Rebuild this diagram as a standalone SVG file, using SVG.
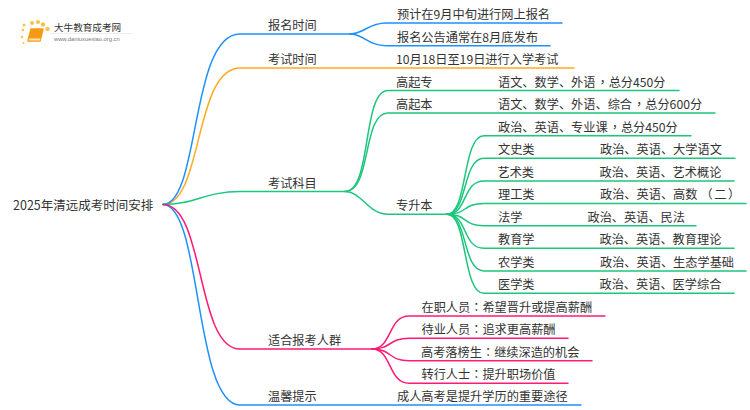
<svg xmlns="http://www.w3.org/2000/svg" width="750" height="410" viewBox="0 0 750 410">
<style>
text{font-family:"Noto Sans CJK SC","Liberation Sans",sans-serif;font-size:12.2px;fill:#333}
tspan{font-family:"Noto Sans CJK TC","Noto Sans CJK SC",sans-serif}
.c{fill:none;stroke-width:1.5;stroke-linecap:round}
.b{stroke:#1e90ff}.o{stroke:#ffa91f}.g{stroke:#1cc67c}.p{stroke:#ff1a75}
.d{fill:#fbc14a}
</style>
<rect width="750" height="410" fill="#fff"/>
<g id="connectors">
<path class="c o" d="M163,204.500C203,204.500 194,68 240,68H574"/>
<path class="c b" d="M163,204.500C200,204.500 190,34 240,34H350"/>
<path class="c g" d="M163,204.500C195,204.500 205,191.500 240,191.500H345"/>
<path class="c b" d="M163,204.500C202,204.500 194,405 240,405H581"/>
<path class="c p" d="M163,204.500C205,204.500 196,349 240,349H372"/>
<path class="c b" d="M350,34C364,34 368,23 386,23H562"/>
<path class="c b" d="M350,34C364,34 368,45.700 386,45.700H550"/>
<path class="c g" d="M345,191.500C372,191.500 362,90.500 388,90.500H679"/>
<path class="c g" d="M345,191.500C372,191.500 362,113 388,113H715"/>
<path class="c g" d="M345,191.500C362,191.500 368,214.300 388,214.300H447"/>
<path class="c g" d="M447,214.300C468,214.300 462,135.700 484,135.700H691"/>
<path class="c g" d="M447,214.300C468,214.300 462,158.300 484,158.300H735"/>
<path class="c g" d="M447,214.300C468,214.300 462,181 484,181H734"/>
<path class="c g" d="M447,214.300C468,214.300 462,203.500 484,203.500H746"/>
<path class="c g" d="M447,214.300C468,214.300 462,225.700 484,225.700H696"/>
<path class="c g" d="M447,214.300C468,214.300 462,248.300 484,248.300H734"/>
<path class="c g" d="M447,214.300C468,214.300 462,271 484,271H746"/>
<path class="c g" d="M447,214.300C468,214.300 462,293.300 484,293.300H734"/>
<path class="c p" d="M372,349C392,349 388,316 409,316H605"/>
<path class="c p" d="M372,349C392,349 388,338.300 409,338.300H568"/>
<path class="c p" d="M372,349C392,349 388,360.700 409,360.700H592"/>
<path class="c p" d="M372,349C392,349 388,383.300 409,383.300H568"/>
</g>
<g id="logo">
<circle class="d" cx="24" cy="25" r="1.500"/><circle class="d" cx="32" cy="23" r="2"/><circle class="d" cx="38" cy="22" r="2"/><circle class="d" cx="43" cy="24.500" r="2.200"/><circle class="d" cx="47.500" cy="29" r="2.200"/><circle class="d" cx="23" cy="30" r="1.300"/><circle class="d" cx="22" cy="37" r="1.200"/><circle class="d" cx="23.500" cy="43" r="1"/>
<path d="M31,29H43L40,41H28Z" fill="#f59a14" stroke="#f59a14" stroke-width="1.500" stroke-linejoin="round"/>
<path d="M29,38.500H40.500L40,40.500H28.500Z" fill="#fde3b0"/>
<text x="54" y="31" style="font-size:9.600px">大牛教育成考网</text>
<path d="M50,33.500H132" stroke="#e8e8e8" stroke-width="0.800"/>
<text x="54" y="41" style="font-size:5.800px;fill:#777;font-family:'Liberation Sans',sans-serif">www.daniuxuexiao.org.cn</text>
</g>
<g id="root"><text x="13" y="210" style="font-size:12.500px">2025年清远成考时间安排</text></g>
<g id="n1"><text x="268" y="30">报名时间</text></g>
<g id="n2"><text x="268" y="64">考试时间</text></g>
<g id="n3"><text x="268" y="188">考试科目</text></g>
<g id="n4"><text x="268" y="345">适合报考人群</text></g>
<g id="n5"><text x="268" y="401">温馨提示</text></g>
<g id="n1a"><text x="397" y="19">预计在9月中旬进行网上报名</text></g>
<g id="n1b"><text x="397" y="41.500">报名公告通常在8月底发布</text></g>
<g id="n2a"><text x="396" y="64">10月18日至19日进行入学考试</text></g>
<g id="n3a"><text x="396" y="86.500">高起专</text><text x="498" y="86.500">语文、数学、外语<tspan dx="1">，</tspan>总分450分</text></g>
<g id="n3b"><text x="396" y="109">高起本</text><text x="498" y="109">语文、数学、外语、综合<tspan dx="1">，</tspan>总分600分</text></g>
<g id="n3c"><text x="396" y="210">专升本</text></g>
<g id="n3c0"><text x="498" y="131.500">政治、英语、专业课<tspan dx="1">，</tspan>总分450分</text></g>
<g id="n3c1"><text x="498" y="154">文史类</text><text x="600" y="154">政治、英语、大学语文</text></g>
<g id="n3c2"><text x="497.500" y="177">艺术类</text><text x="599.500" y="177">政治、英语、艺术概论</text></g>
<g id="n3c3"><text x="498" y="199">理工类</text><text x="600" y="199">政治、英语、高数<tspan dx="3">（</tspan><tspan dx="1.500">二</tspan><tspan dx="1.500">）</tspan></text></g>
<g id="n3c4"><text x="498" y="221.500">法学</text><text x="587.500" y="221.500">政治、英语、民法</text></g>
<g id="n3c5"><text x="498" y="244">教育学</text><text x="599.500" y="244">政治、英语、教育理论</text></g>
<g id="n3c6"><text x="498" y="266.500">农学类</text><text x="600" y="266.500">政治、英语、生态学基础</text></g>
<g id="n3c7"><text x="498" y="289">医学类</text><text x="599.500" y="289">政治、英语、医学综合</text></g>
<g id="n4a"><text x="421.500" y="312">在职人员<tspan>：</tspan>希望晋升或提高薪酬</text></g>
<g id="n4b"><text x="421.500" y="334">待业人员<tspan>：</tspan>追求更高薪酬</text></g>
<g id="n4c"><text x="421" y="356.500">高考落榜生<tspan>：</tspan>继续深造的机会</text></g>
<g id="n4d"><text x="421.500" y="379">转行人士<tspan>：</tspan>提升职场价值</text></g>
<g id="n5a"><text x="397" y="401">成人高考是提升学历的重要途径</text></g>
</svg>
